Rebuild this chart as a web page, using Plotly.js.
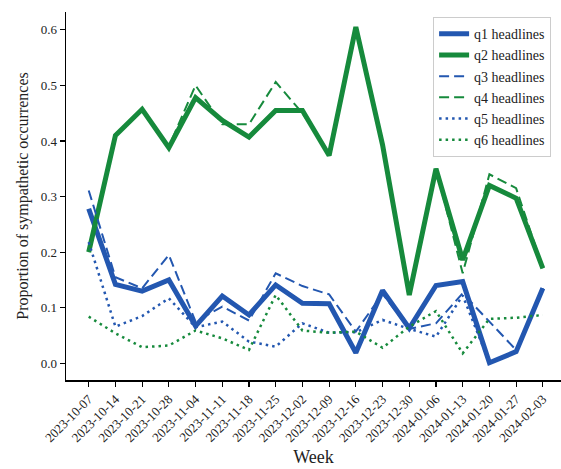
<!DOCTYPE html>
<html>
<head>
<meta charset="utf-8">
<script src="https://cdn.plot.ly/plotly-3.0.1.min.js"></script>
<style>html,body{margin:0;padding:0;background:#fff;}#chart{width:561px;height:469px;}</style>
</head>
<body>
<div id="chart"></div>
<script>
const weeks = ["2023-10-07","2023-10-14","2023-10-21","2023-10-28","2023-11-04","2023-11-11","2023-11-18","2023-11-25","2023-12-02","2023-12-09","2023-12-16","2023-12-23","2023-12-30","2024-01-06","2024-01-13","2024-01-20","2024-01-27","2024-02-03"];
const q1 = [0.278, 0.142, 0.130, 0.150, 0.067, 0.121, 0.087, 0.141, 0.108, 0.107, 0.019, 0.131, 0.063, 0.140, 0.147, 0.001, 0.021, 0.135];
const q2 = [0.200, 0.410, 0.457, 0.388, 0.478, 0.437, 0.407, 0.455, 0.455, 0.374, 0.605, 0.393, 0.123, 0.350, 0.186, 0.320, 0.297, 0.171];
const q3 = [0.311, 0.155, 0.135, 0.195, 0.075, 0.102, 0.077, 0.162, 0.139, 0.124, 0.057, 0.125, 0.062, 0.072, 0.126, 0.075, 0.024, 0.135];
const q4 = [0.200, 0.412, 0.455, 0.390, 0.500, 0.430, 0.430, 0.506, 0.450, 0.378, 0.605, 0.390, 0.125, 0.350, 0.162, 0.340, 0.315, 0.171];
const q5 = [0.218, 0.066, 0.085, 0.117, 0.065, 0.075, 0.039, 0.030, 0.072, 0.055, 0.056, 0.078, 0.062, 0.048, 0.122, 0.001, 0.021, 0.135];
const q6 = [0.084, 0.054, 0.029, 0.032, 0.059, 0.045, 0.024, 0.123, 0.059, 0.055, 0.057, 0.028, 0.066, 0.094, 0.018, 0.080, 0.082, 0.087];
const names = ["q1 headlines","q2 headlines","q3 headlines","q4 headlines","q5 headlines","q6 headlines"];

const BLUE = "#2357b0", GREEN = "#168a3c";
const FONT = "'Liberation Serif', 'Times New Roman', serif";
const xs = weeks.map((w, i) => i);

const styles = [
  {color: BLUE, width: 5, dash: "solid"},
  {color: GREEN, width: 5, dash: "solid"},
  {color: BLUE, width: 2, dash: "10px,5px"},
  {color: GREEN, width: 2, dash: "10px,5px"},
  {color: BLUE, width: 2.5, dash: "2.5px,4px"},
  {color: GREEN, width: 2.5, dash: "2.5px,4px"}
];
const series = [q1, q2, q3, q4, q5, q6];
const traces = series.map((ys, k) => ({
  x: xs, y: ys, name: names[k], type: "scatter", mode: "lines",
  line: styles[k]
}));

const layout = {
  width: 561, height: 469,
  margin: {l: 66, r: 0, t: 12, b: 89},
  paper_bgcolor: "#fff", plot_bgcolor: "#fff",
  font: {family: FONT, color: "#222"},
  showlegend: true,
  legend: {
    x: 0.98, xanchor: "right", y: 0.986, yanchor: "top",
    bgcolor: "rgba(255,255,255,0.85)", bordercolor: "#cccccc", borderwidth: 1,
    font: {family: FONT, size: 14, color: "#222"}
  },
  xaxis: {
    range: [-0.85, 17.68],
    tickvals: xs, ticktext: weeks, tickangle: -45,
    tickfont: {family: FONT, size: 13, color: "#222"},
    showline: true, linecolor: "#000", linewidth: 1.5, mirror: false,
    ticks: "outside", ticklen: 5, tickwidth: 1.2, tickcolor: "#000",
    showgrid: false, zeroline: false,
    title: {text: "Week", font: {family: FONT, size: 18, color: "#222"}, standoff: 6}
  },
  yaxis: {
    range: [-0.030, 0.632],
    tickvals: [0, 0.1, 0.2, 0.3, 0.4, 0.5, 0.6], tickformat: ".1f",
    tickfont: {family: FONT, size: 13, color: "#222"},
    showline: true, linecolor: "#000", linewidth: 1.5, mirror: false,
    ticks: "outside", ticklen: 5, tickwidth: 1.2, tickcolor: "#000",
    showgrid: false, zeroline: false,
    title: {text: "Proportion of sympathetic occurrences", font: {family: FONT, size: 16, color: "#222"}, standoff: 8}
  }
};
Plotly.newPlot("chart", traces, layout, {displayModeBar: false, staticPlot: true});
</script>
</body>
</html>
